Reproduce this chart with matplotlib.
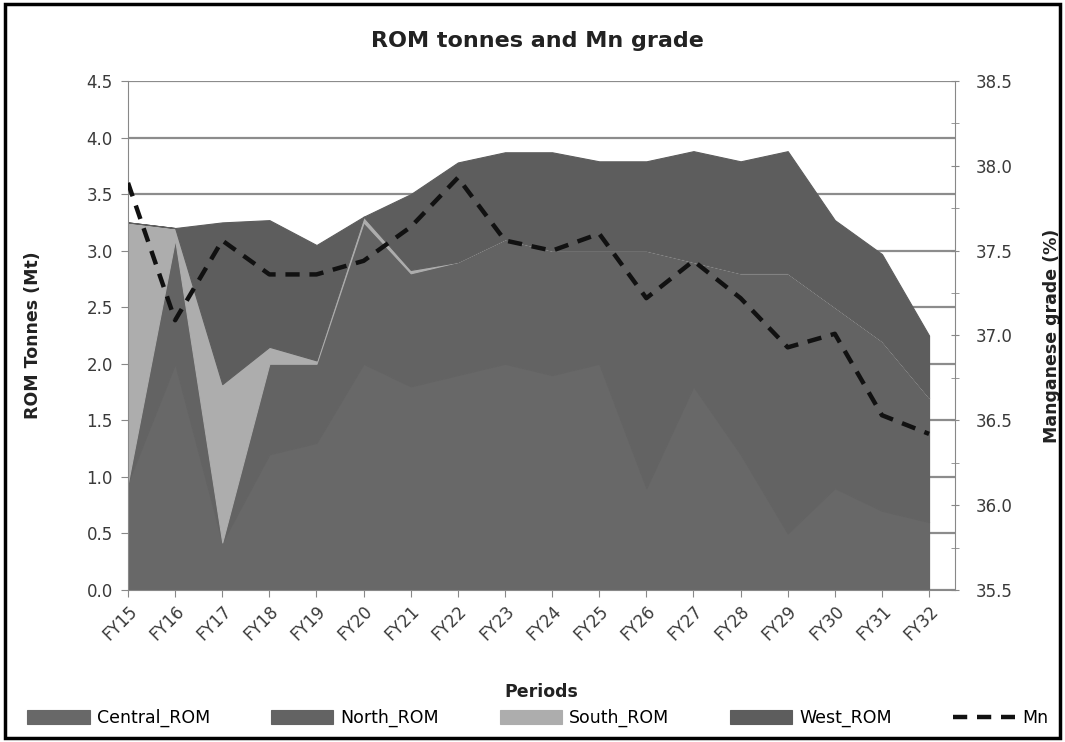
import matplotlib
matplotlib.use("Agg")
import matplotlib.pyplot as plt
import numpy as np
from matplotlib.patches import Rectangle

periods = ["FY15", "FY16", "FY17", "FY18", "FY19", "FY20", "FY21", "FY22", "FY23",
           "FY24", "FY25", "FY26", "FY27", "FY28", "FY29", "FY30", "FY31", "FY32"]
central_rom = [0.95, 2.00, 0.42, 1.20, 1.30, 2.00, 1.80, 1.90, 2.00, 1.90, 2.00, 0.90, 1.80, 1.20, 0.50, 0.90, 0.70, 0.60]
north_rom   = [0.00, 1.10, 0.00, 0.80, 0.70, 1.25, 1.00, 1.00, 1.10, 1.10, 1.00, 2.10, 1.10, 1.60, 2.30, 1.60, 1.50, 1.10]
south_rom   = [2.30, 0.10, 1.40, 0.15, 0.03, 0.05, 0.03, 0.00, 0.00, 0.00, 0.00, 0.00, 0.00, 0.00, 0.00, 0.00, 0.00, 0.00]
west_rom    = [0.00, 0.00, 1.43, 1.12, 1.02, 0.00, 0.67, 0.88, 0.77, 0.87, 0.79, 0.79, 0.98, 0.99, 1.08, 0.77, 0.77, 0.55]
mn_grade    = [37.90, 37.09, 37.56, 37.36, 37.36, 37.44, 37.64, 37.93, 37.56, 37.50, 37.60, 37.22, 37.44, 37.22, 36.93, 37.01, 36.53, 36.42]

series_names = ["Central_ROM", "North_ROM", "South_ROM", "West_ROM"]
series_colors = ["#686868", "#636363", "#adadad", "#5d5d5d"]

plt.rcParams['font.family'] = ['DejaVu Sans']

fig = plt.figure(figsize=(10.65, 7.42), dpi=100)
ax = fig.add_axes([0.1202, 0.2049, 0.8967 - 0.1202, 0.8908 - 0.2049])

x = np.arange(len(periods))
ax.set_axisbelow(True)
ax.yaxis.grid(True, color="#8c8c8c", linewidth=1.6)
polys = ax.stackplot(x, central_rom, north_rom, south_rom, west_rom,
                     colors=series_colors, labels=series_names, zorder=2)
for p, c in zip(polys, series_colors):
    p.set_edgecolor(c)
    p.set_linewidth(0.8)

ax.set_xlim(0, len(periods) - 1 + 0.55)
ax.set_ylim(0, 4.5)
ax.set_yticks(np.arange(0, 4.51, 0.5))
ax.set_yticklabels([f"{v:.1f}" for v in np.arange(0, 4.51, 0.5)], fontsize=12, color="#3a3a3a")
ax.set_xticks(x)
ax.set_xticklabels(periods, rotation=45, ha="right", rotation_mode="anchor", fontsize=12, color="#3a3a3a")
ax.tick_params(axis="x", length=5, color="#888888", pad=4)
ax.tick_params(axis="y", length=5, color="#888888", pad=6)
for s in ["top", "right"]:
    ax.spines[s].set_visible(False)
ax.spines["left"].set_color("#888888")
ax.spines["bottom"].set_color("#888888")
ax.set_ylabel("ROM Tonnes (Mt)", fontsize=12.5, fontweight="bold", color="#222222", labelpad=32)
ax.set_xlabel("Periods", fontsize=12.5, fontweight="bold", color="#222222", labelpad=28)

ax2 = ax.twinx()
ln, = ax2.plot(x, mn_grade, color="#111111", linewidth=3.2, linestyle=(0, (3.2, 2.2)), label="Mn", zorder=5)
ax2.set_ylim(35.5, 38.5)
ax2.set_yticks(np.arange(35.5, 38.51, 0.5))
ax2.set_yticklabels([f"{v:.1f}" for v in np.arange(35.5, 38.51, 0.5)], fontsize=12, color="#3a3a3a")
ax2.set_yticks(np.arange(35.75, 38.5, 0.5), minor=True)
ax2.tick_params(axis="y", which="major", length=6, color="#888888", pad=12, direction="inout")
ax2.tick_params(axis="y", which="minor", length=6, color="#888888", direction="inout")
for s in ["top", "left", "bottom"]:
    ax2.spines[s].set_visible(False)
ax2.spines["right"].set_color("#888888")
ax2.set_ylabel("Manganese grade (%)", fontsize=12.5, fontweight="bold", color="#222222", labelpad=22)

fig.text(0.505, 0.945, "ROM tonnes and Mn grade", ha="center", va="center",
         fontsize=16, fontweight="bold", color="#222222")

handles = list(polys) + [ln]
labels = series_names + ["Mn"]
fig.legend(handles, labels, loc="center", bbox_to_anchor=(0.505, 0.032), ncol=5, frameon=False,
           fontsize=12.5, handlelength=3.6, handleheight=0.9, columnspacing=3.5, handletextpad=0.4)

fig.patches.append(Rectangle((0.005, 0.006), 0.99, 0.988, transform=fig.transFigure,
                             fill=False, edgecolor="black", linewidth=2.5))

fig.savefig("out.png", dpi=100)
